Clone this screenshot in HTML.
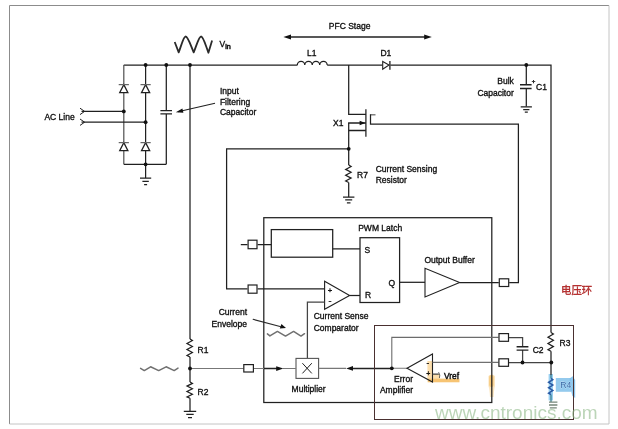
<!DOCTYPE html>
<html><head><meta charset="utf-8"><title>PFC Stage</title>
<style>
html,body{margin:0;padding:0;background:#fff;}
svg{display:block;will-change:transform;}
text{font-family:"Liberation Sans","Noto Sans CJK SC",sans-serif;fill:#101010;stroke:#101010;stroke-width:.33px;}
</style></head>
<body>
<svg width="618" height="429" viewBox="0 0 618 429">
<rect width="618" height="429" fill="#fff"/>
<g fill="none" stroke-width="1">
<path d="M9.5,424 V5.5 H609" stroke="#8c8c8c"/>
<path d="M609,5.5 V424 H9.5" stroke="#c4c4c4"/>
</g>
<g stroke="none">
<rect x="548.6" y="374" width="4.4" height="26.4" fill="#8fcbf0" opacity=".9"/>
<rect x="555.8" y="378" width="15.4" height="13.8" fill="#79bde9" opacity=".8"/>
<path d="M569.6,378.6 L572.6,376.2 L575.2,380 V398 L572.4,396 L570.4,388 Z" fill="#7cc0ec" opacity=".85"/>
<path d="M488.4,376 q3.4,-3 6.6,0 v10 q-1,3 -1.4,11 h-3.6 q-0.4,-8 -1.6,-11 z" fill="#f7c15f" opacity=".4"/>
<rect x="489.2" y="375" width="4.4" height="12" rx="2" fill="#f4ae3c" opacity=".5"/>
<path d="M427.4,361 H432.4 V374 H440 V378.7 H459.4 V382.2 H427.4 Z" fill="#f8c269" opacity=".55"/>
<rect x="428" y="378.7" width="31.4" height="3.5" fill="#f3a93a" opacity=".5"/>
</g>
<g fill="none" stroke="#202020" stroke-width="1.25" stroke-linejoin="miter">
<path d="M123.8,65.0 H297.5"/>
<path d="M297.3,65.0 a3.737,3.70 0 0 1 7.475,0 a3.737,3.70 0 0 1 7.475,0 a3.737,3.70 0 0 1 7.475,0 a3.737,3.70 0 0 1 7.475,0 "/>
<path d="M327.2,65.0 H382.6 M390.4,65.0 H551.0 V332.5"/>
<path d="M123.8,65.0 V164.3" stroke="#555"/>
<path d="M145.6,65.0 V178"/>
<path d="M166.3,65.0 V110.6 M166.3,113.9 V164.3"/>
<path d="M123.8,164.3 H166.3"/>
<path d="M160.4,110.6 H172 M160.4,113.9 H172" stroke-width="1.4"/>
<path d="M123.8,84.6 L127.89999999999999,92.7 H119.7 Z" fill="#fff"/><path d="M118.7,84.6 H128.9" stroke="#666"/>
<path d="M145.6,84.6 L149.7,92.7 H141.5 Z" fill="#fff"/><path d="M140.5,84.6 H150.7" stroke="#666"/>
<path d="M123.8,142.6 L127.89999999999999,150.6 H119.7 Z" fill="#fff"/><path d="M118.7,142.6 H128.9" stroke="#666"/>
<path d="M145.6,142.6 L149.7,150.6 H141.5 Z" fill="#fff"/><path d="M140.5,142.6 H150.7" stroke="#666"/>
<path d="M140.00,178.20 H151.20 M142.40,181.40 H148.80 M144.10,184.60 H147.10 "/>
<path d="M81.5,111.4 H123.8 M81.5,122.2 H145.6"/>
<path d="M80,108.2 L84.6,111.4 L80,114.6 M80,119 L84.6,122.2 L80,125.4" stroke-width="1"/>
<path d="M190.0,65.0 V339 M190.0,357 V382 M190.0,398.3 V411.3"/>
<path d="M190.00,339.00 L192.40,340.50 L187.00,343.50 L192.40,346.50 L187.00,349.50 L192.40,352.50 L187.00,355.50 L190.00,357.00"/>
<path d="M190.00,382.00 L192.40,383.36 L187.00,386.07 L192.40,388.79 L187.00,391.51 L192.40,394.23 L187.00,396.94 L190.00,398.30"/>
<path d="M183.80,411.30 H196.20 M186.30,414.40 H193.70 M188.00,417.50 H192.00 "/>
<path d="M174.7,42 L178.7,52.4 C181.2,46 183.4,36.5 185.7,36.5 C188,36.5 191,46 193.7,52.4 C196.4,46 198.8,36.5 201.1,36.5 C203.4,36.5 206,46.5 208.4,52.7 L212.1,40.6" stroke-width="1.8" stroke="#2a2a2a" stroke-linejoin="round"/>
<path d="M215,103.2 L178,111.7" stroke-width="1.15"/>
<path d="M289,37 H426" stroke-width="1.45"/>
<path d="M382.7,61.4 V69.3 L389,65.0 Z" fill="#fff" stroke-width="1.1"/><path d="M389.9,61 V69.7" stroke-width="1.3"/>
<path d="M526.3,65.0 V84.8 M526.3,88.5 V106.6"/>
<path d="M520,84.8 H531.6 M520,88.5 H531.6" stroke-width="1.4"/>
<path d="M520.70,106.80 H531.90 M523.20,109.50 H529.40 M524.80,112.20 H527.80 "/>
<path d="M348.7,65.0 V114.4 H365.9 M365.9,109.3 V136.8 M348.7,123 V165 M348.7,182.5 V197"/>
<path d="M348.09999999999997,123 H365.9 M348.7,130.6 H365.9" stroke-width="1.5"/>
<path d="M370.5,114.8 H375.5" stroke="#666"/>
<path d="M370.5,114.3 V124.2 H518.4 V282.5 H509.2"/>
<path d="M348.70,165.00 L351.10,166.46 L345.70,169.38 L351.10,172.29 L345.70,175.21 L351.10,178.12 L345.70,181.04 L348.70,182.50"/>
<path d="M343.00,197.00 H354.40 M345.20,199.90 H352.20 M346.90,202.80 H350.50 "/>
<path d="M348.7,148.8 H226.6 V288.8 H247.5 M257.6,288.8 H324.6"/>
<rect x="263.8" y="217.7" width="228" height="184.8"/>
<rect x="271.3" y="229.6" width="61.4" height="27.6"/>
<path d="M240.8,244.5 H247.5 M257.6,244.5 H271.3 M332.7,248.9 H360"/>
<rect x="248.10" y="240.20" width="8.90" height="8.50" fill="#fff" stroke-width="1.2"/>
<rect x="248.10" y="285.00" width="8.90" height="8.20" fill="#fff" stroke-width="1.2"/>
<rect x="360" y="237.7" width="39.6" height="64.8"/>
<path d="M399.6,282.3 H425"/>
<path d="M324.6,281.3 V309.3 L349.6,295.5 Z" stroke-width="1.1"/>
<path d="M349.6,295.5 H360"/>
<path d="M324.6,302 H307.4 V358" stroke="#444"/>
<path d="M425,268.3 V297 L459.6,282.5 Z" stroke-width="1.1"/>
<path d="M459.6,282.5 H498.8"/>
<rect x="499.30" y="278.80" width="9.40" height="7.70" fill="#fff" stroke-width="1.2"/>
<rect x="296" y="358.4" width="22.6" height="20" stroke-width="1.1" stroke="#555"/>
<path d="M302.4,363.2 L311.8,373.4 M311.8,363.2 L302.4,373.4" stroke-width="1"/>
<path d="M190.0,368.5 H243.6 M253.6,368.5 H264 M283,368.5 H296" stroke="#777" stroke-width="1.1"/>
<path d="M264,368.5 H278" stroke="#222" stroke-width="1.5"/>
<rect x="243.80" y="364.60" width="9.60" height="7.40" fill="#fff" stroke-width="1.2"/>
<path d="M318.6,368.4 H346 M391.8,368.3 H407.4" stroke="#777" stroke-width="1.1"/>
<path d="M350,368.4 H391.8" stroke="#222" stroke-width="1.5"/>
<path d="M432.5,354 V382 L407,368.3 Z" stroke-width="1.1"/>
<path d="M432.5,362.4 H498.5" stroke="#707070" stroke-width="1.1"/>
<path d="M509,362.5 H551.2 M432.5,374.2 H438.8" stroke="#444"/>
<path d="M438.6,372.2 Q440.6,375 439.4,378" stroke="#555" stroke-width="0.9"/>
<path d="M391.8,368.3 V337.4 H498.5" stroke="#6c6c6c" stroke-width="1.1"/>
<path d="M509,337.5 H522.6 V346.8 M522.6,350.1 V362.5" stroke="#444"/>
<path d="M516.6,346.8 H528.4 M516.6,350.1 H528.4" stroke-width="1.4"/>
<rect x="499.00" y="333.60" width="9.50" height="7.70" fill="#fff" stroke-width="1.2"/>
<rect x="498.90" y="358.80" width="9.60" height="7.50" fill="#fff" stroke-width="1.2"/>
<path d="M551.00,332.50 L553.40,334.07 L548.00,337.20 L553.40,340.33 L548.00,343.47 L553.40,346.60 L548.00,349.73 L551.00,351.30"/>
<path d="M551.0,351.3 V375"/>
<path d="M551.0,375 V378.3 M551.0,394.5 V402" stroke="#3b7f8f"/>
<path d="M551.00,378.30 L552.80,379.65 L548.60,382.35 L552.80,385.05 L548.60,387.75 L552.80,390.45 L548.60,393.15 L551.00,394.50" stroke="#2a5aa4" stroke-width="1.5"/>
<path d="M549,402.2 H557.4 M549,405 H557.4 M549.8,407.8 H556.8" stroke="#76877a" stroke-width="1.3"/>
</g>
<g fill="#111" stroke="none">
<path d="M283.4,37 L291,34.4 V39.6 Z"/>
<path d="M431.8,37 L424.2,34.4 V39.6 Z"/>
<path d="M175.8,112.2 L182.4,108.4 L183.4,112.8 Z"/>
<path d="M365.4,123 L359.6,120.8 V125.2 Z"/>
<path d="M283.4,368.6 L276.2,366.2 V371 Z"/>
<path d="M346.2,368.4 L353,366 V370.8 Z"/>
<path d="M286,328 L279.8,328.6 L281.4,324 Z"/>
<circle cx="145.6" cy="65.0" r="1.9" fill="#111" stroke="none"/>
<circle cx="166.3" cy="65.0" r="1.9" fill="#111" stroke="none"/>
<circle cx="190.0" cy="65.0" r="1.9" fill="#111" stroke="none"/>
<circle cx="526.3" cy="65.0" r="1.9" fill="#111" stroke="none"/>
<circle cx="123.8" cy="111.4" r="1.9" fill="#111" stroke="none"/>
<circle cx="145.6" cy="122.2" r="1.9" fill="#111" stroke="none"/>
<circle cx="145.6" cy="164.3" r="1.9" fill="#111" stroke="none"/>
<circle cx="348.7" cy="148.8" r="1.9" fill="#111" stroke="none"/>
<circle cx="190.0" cy="368.5" r="1.9" fill="#111" stroke="none"/>
<circle cx="391.8" cy="368.3" r="1.9" fill="#111" stroke="none"/>
<circle cx="522.5" cy="362.5" r="1.9" fill="#111" stroke="none"/>
<circle cx="551.3" cy="362.5" r="1.9" fill="#111" stroke="none"/>
</g>
<g fill="none" stroke="#707070" stroke-width="1.5" stroke-linejoin="round" stroke-linecap="round">
<path d="M140.6,368.4 L144.3,370.6 L150.6,366.8 L158.7,370.6 L166.1,366.8 L174.2,370.6 L178,368.1"/>
<path d="M267.4,333.9 L269.9,335.9 L277.4,331.4 L285.5,336.1 L293.6,331.4 L301,336.1 L304.5,333.7"/>
<path d="M253.1,319.3 L281,326.7" stroke="#2a2a2a" stroke-width="1.15"/>
</g>
<rect x="374.5" y="325.5" width="199" height="94" fill="none" stroke="#4a3030" stroke-width="1"/>
<g opacity="0.999">
<text x="44.4" y="119.6" text-anchor="start" font-size="8.5" >AC Line</text>
<text x="219.6" y="47" text-anchor="start" font-size="8.5" >V<tspan font-size="7.2" dy="2.4" style="stroke-width:.5px">in</tspan></text>
<text x="219.9" y="93.8" text-anchor="start" font-size="8.5" >Input</text>
<text x="219.9" y="104.8" text-anchor="start" font-size="8.5" >Filtering</text>
<text x="219.9" y="115.4" text-anchor="start" font-size="8.5" >Capacitor</text>
<text x="328.8" y="29.4" text-anchor="start" font-size="8.5" >PFC Stage</text>
<text x="307" y="55.6" text-anchor="start" font-size="8.5" >L1</text>
<text x="380.4" y="55.6" text-anchor="start" font-size="8.5" >D1</text>
<text x="513.8" y="84.3" text-anchor="end" font-size="8.5" >Bulk</text>
<text x="513.8" y="95.8" text-anchor="end" font-size="8.5" >Capacitor</text>
<text x="536" y="89.6" text-anchor="start" font-size="8.5" >C1</text>
<text x="531.8" y="82.6" text-anchor="start" font-size="6" font-weight="bold">+</text>
<text x="333" y="125.6" text-anchor="start" font-size="8.5" >X1</text>
<text x="357" y="177.6" text-anchor="start" font-size="8.5" >R7</text>
<text x="375.7" y="171.8" text-anchor="start" font-size="8.5" >Current Sensing</text>
<text x="375.7" y="182.6" text-anchor="start" font-size="8.5" >Resistor</text>
<text x="358.2" y="231.1" text-anchor="start" font-size="8.5" >PWM Latch</text>
<text x="364.4" y="252.6" text-anchor="start" font-size="8.5" >S</text>
<text x="388.6" y="286.3" text-anchor="start" font-size="8.5" >Q</text>
<text x="365" y="297.6" text-anchor="start" font-size="8.5" >R</text>
<text x="424.4" y="262.6" text-anchor="start" font-size="8.5" >Output Buffer</text>
<text x="313.7" y="318.8" text-anchor="start" font-size="8.5" >Current Sense</text>
<text x="313.7" y="330.7" text-anchor="start" font-size="8.5" >Comparator</text>
<text x="327.8" y="292.6" text-anchor="start" font-size="7.6" >+</text>
<text x="328.6" y="304.2" text-anchor="start" font-size="9" >-</text>
<text x="247" y="315.2" text-anchor="end" font-size="8.5" >Current</text>
<text x="247" y="327" text-anchor="end" font-size="8.5" >Envelope</text>
<text x="197.5" y="352.6" text-anchor="start" font-size="8.5" >R1</text>
<text x="197.5" y="394.6" text-anchor="start" font-size="8.5" >R2</text>
<text x="291.6" y="392" text-anchor="start" font-size="8.5" >Multiplier</text>
<text x="413" y="382" text-anchor="end" font-size="8.5" >Error</text>
<text x="413" y="392.6" text-anchor="end" font-size="8.5" >Amplifier</text>
<text x="444" y="379" text-anchor="start" font-size="8.4" style="stroke-width:.45px">Vref</text>
<text x="426.6" y="365.2" text-anchor="start" font-size="8" >-</text>
<text x="426.2" y="375.6" text-anchor="start" font-size="7" >+</text>
<text x="532.7" y="353" text-anchor="start" font-size="8.5" >C2</text>
<text x="559.5" y="346.3" text-anchor="start" font-size="8.5" >R3</text>
<text x="560.2" y="388.3" text-anchor="start" font-size="8.6" style="fill:#3a6aa6;stroke:#e4f1fb;stroke-width:.35px;paint-order:stroke">R4</text>
</g>
<text x="561" y="294.4" font-size="10.4" style="fill:#b02626;stroke:#b02626;stroke-width:.3px">电压环</text>
<text x="435" y="419.2" font-size="19" style="fill:#90ba8a;stroke:none" opacity=".6">www.cntronics.com</text>
</svg>
</body></html>
